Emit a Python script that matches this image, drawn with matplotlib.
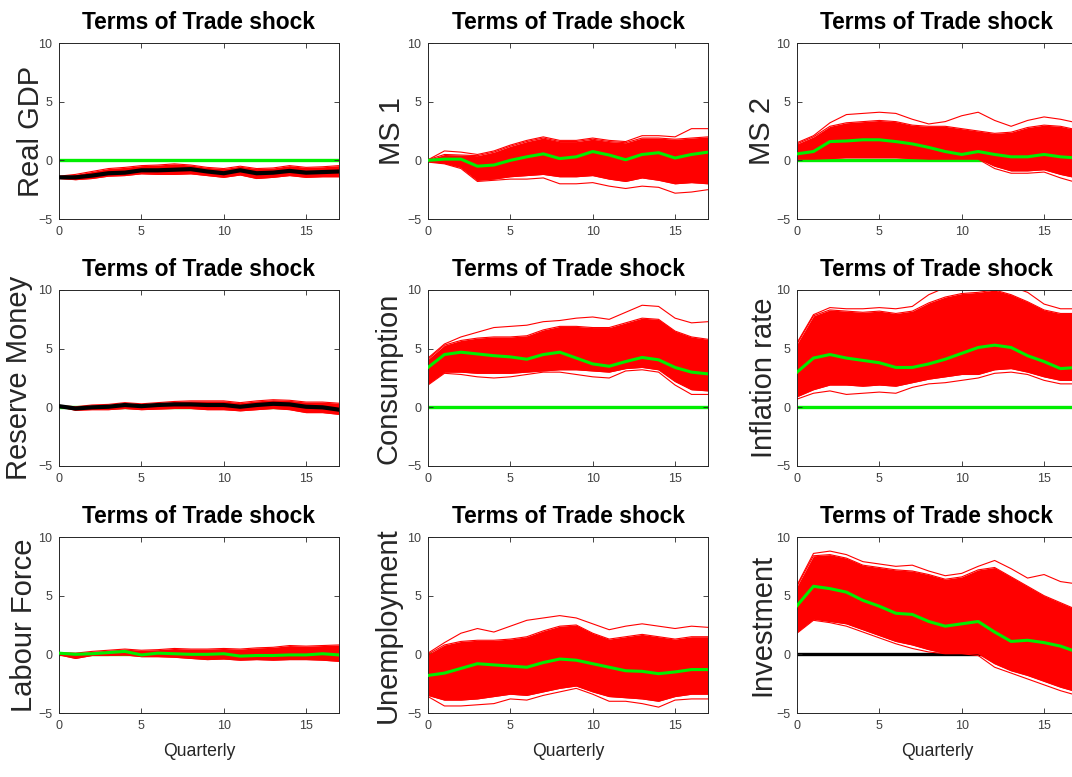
import matplotlib
matplotlib.use("Agg")
import matplotlib.pyplot as plt
from matplotlib import font_manager

# quarters after the shock
quarters = list(range(18))

# Real GDP
gdp_mid = [-1.45, -1.45, -1.3, -1.1, -1.05, -0.85, -0.85, -0.8, -0.75, -0.95, -1.1, -0.85, -1.1, -1.05, -0.9, -1.05, -1.0, -0.95]
gdp_hi = [-1.35, -1.2, -0.95, -0.7, -0.6, -0.45, -0.4, -0.3, -0.4, -0.6, -0.7, -0.5, -0.7, -0.65, -0.45, -0.6, -0.55, -0.45]
gdp_lo = [-1.55, -1.65, -1.55, -1.35, -1.3, -1.15, -1.2, -1.2, -1.15, -1.3, -1.45, -1.25, -1.55, -1.45, -1.3, -1.45, -1.4, -1.4]

# MS 1
ms1_mid = [0.0, 0.1, 0.1, -0.5, -0.4, 0.0, 0.3, 0.55, 0.15, 0.3, 0.75, 0.45, 0.05, 0.5, 0.65, 0.2, 0.5, 0.7]
ms1_hi = [0.05, 0.5, 0.45, 0.4, 0.7, 1.2, 1.6, 1.9, 1.6, 1.6, 1.8, 1.6, 1.5, 1.9, 1.9, 1.8, 1.9, 2.0]
ms1_lo = [-0.1, -0.25, -0.6, -1.7, -1.6, -1.4, -1.3, -1.2, -1.4, -1.4, -1.3, -1.6, -1.8, -1.5, -1.7, -2.0, -1.9, -2.0]
ms1_top = [0.05, 0.8, 0.7, 0.5, 0.8, 1.3, 1.7, 2.0, 1.7, 1.7, 1.9, 1.7, 1.6, 2.1, 2.1, 2.0, 2.7, 2.7]
ms1_bot = [-0.15, -0.3, -0.7, -1.8, -1.7, -1.6, -1.6, -1.5, -2.0, -2.0, -1.9, -2.2, -2.4, -2.2, -2.3, -2.8, -2.7, -2.5]

# MS 2
ms2_mid = [0.55, 0.75, 1.6, 1.65, 1.75, 1.75, 1.6, 1.4, 1.1, 0.75, 0.5, 0.75, 0.5, 0.3, 0.3, 0.5, 0.3, 0.2]
ms2_hi = [1.4, 2.0, 2.9, 3.2, 3.3, 3.4, 3.3, 3.0, 2.9, 2.9, 2.7, 2.5, 2.3, 2.4, 2.8, 3.0, 2.9, 2.6]
ms2_lo = [0.15, 0.15, 0.2, 0.25, 0.25, 0.25, 0.25, 0.2, 0.15, 0.15, 0.15, 0.15, -0.5, -0.9, -0.9, -0.8, -1.2, -1.5]
ms2_top = [1.5, 2.1, 3.2, 3.9, 4.0, 4.1, 4.0, 3.5, 3.1, 3.3, 3.8, 4.1, 3.4, 2.9, 3.4, 3.7, 3.5, 3.2]
ms2_bot = [0.1, 0.1, 0.15, 0.2, 0.2, 0.2, 0.2, 0.15, 0.1, 0.1, 0.1, 0.1, -0.7, -1.1, -1.1, -1.0, -1.5, -1.9]

# Reserve Money
res_mid = [0.1, -0.1, 0.0, 0.05, 0.2, 0.1, 0.2, 0.25, 0.25, 0.2, 0.2, 0.05, 0.2, 0.3, 0.25, 0.05, 0.0, -0.2]
res_hi = [0.15, 0.05, 0.2, 0.25, 0.4, 0.3, 0.4, 0.5, 0.55, 0.55, 0.55, 0.4, 0.55, 0.65, 0.6, 0.45, 0.45, 0.35]
res_lo = [0.05, -0.25, -0.2, -0.2, -0.1, -0.2, -0.15, -0.1, -0.1, -0.2, -0.2, -0.3, -0.2, -0.1, -0.2, -0.45, -0.45, -0.6]

# Consumption
con_mid = [3.4, 4.5, 4.7, 4.55, 4.4, 4.3, 4.1, 4.5, 4.7, 4.2, 3.7, 3.5, 3.9, 4.25, 4.05, 3.4, 3.0, 2.85]
con_hi = [4.1, 5.3, 5.7, 5.9, 6.0, 6.0, 6.1, 6.6, 6.9, 6.9, 6.8, 6.8, 7.2, 7.6, 7.5, 6.5, 6.0, 5.8]
con_lo = [2.0, 3.0, 3.0, 2.9, 2.9, 2.9, 3.0, 3.1, 3.2, 3.2, 3.1, 3.0, 3.3, 3.4, 3.2, 2.2, 1.5, 1.4]
con_top = [4.2, 5.4, 6.0, 6.4, 6.8, 6.9, 7.0, 7.3, 7.4, 7.6, 7.7, 7.5, 8.1, 8.7, 8.6, 7.6, 7.2, 7.3]
con_bot = [1.9, 2.9, 2.8, 2.6, 2.5, 2.6, 2.8, 3.0, 3.0, 2.8, 2.6, 2.5, 3.1, 3.2, 3.0, 1.9, 1.1, 1.1]

# Inflation rate
inf_mid = [3.0, 4.2, 4.5, 4.2, 4.0, 3.8, 3.4, 3.4, 3.7, 4.1, 4.6, 5.1, 5.3, 5.1, 4.4, 3.9, 3.3, 3.4]
inf_hi = [5.4, 7.8, 8.3, 8.2, 8.1, 8.2, 8.0, 8.2, 8.9, 9.4, 9.7, 9.8, 10.0, 9.6, 9.0, 8.3, 8.0, 8.0]
inf_lo = [0.9, 1.5, 1.9, 1.9, 1.8, 1.9, 1.8, 2.1, 2.4, 2.6, 2.8, 2.8, 3.2, 3.3, 3.0, 2.6, 2.3, 2.3]
inf_top = [5.5, 7.9, 8.5, 8.4, 8.4, 8.5, 8.4, 8.6, 9.6, 10.2, 10.5, 10.5, 10.6, 10.3, 9.8, 8.8, 8.4, 8.4]
inf_bot = [0.7, 1.2, 1.4, 1.1, 1.2, 1.3, 1.2, 1.7, 2.0, 2.1, 2.3, 2.5, 2.9, 3.0, 2.8, 2.3, 2.0, 2.0]

# Labour Force
lab_mid = [0.1, 0.0, 0.05, 0.15, 0.25, -0.05, 0.1, 0.05, 0.0, 0.0, 0.05, -0.15, -0.1, -0.1, -0.05, -0.05, 0.05, -0.05]
lab_hi = [0.15, 0.1, 0.25, 0.35, 0.45, 0.35, 0.4, 0.5, 0.45, 0.45, 0.5, 0.45, 0.55, 0.6, 0.75, 0.7, 0.75, 0.8]
lab_lo = [-0.05, -0.35, -0.1, -0.1, -0.05, -0.2, -0.2, -0.25, -0.35, -0.45, -0.4, -0.5, -0.45, -0.5, -0.45, -0.45, -0.5, -0.6]

# Unemployment
une_mid = [-1.8, -1.6, -1.2, -0.8, -0.9, -1.0, -1.1, -0.7, -0.4, -0.5, -0.8, -1.1, -1.4, -1.45, -1.65, -1.5, -1.3, -1.3]
une_hi = [0.0, 0.8, 1.1, 1.2, 1.2, 1.3, 1.5, 2.0, 2.4, 2.5, 1.8, 1.3, 1.5, 1.7, 1.5, 1.3, 1.5, 1.5]
une_lo = [-3.5, -3.9, -3.9, -3.8, -3.6, -3.4, -3.5, -3.2, -2.9, -2.7, -3.2, -3.6, -3.7, -3.8, -4.0, -3.6, -3.4, -3.4]
une_top = [0.1, 1.0, 1.8, 2.2, 1.9, 2.4, 2.9, 3.1, 3.3, 3.1, 2.6, 2.1, 2.4, 2.6, 2.4, 2.2, 2.4, 2.3]
une_bot = [-3.6, -4.4, -4.4, -4.3, -4.2, -3.8, -3.9, -3.5, -3.2, -2.9, -3.4, -4.0, -4.0, -4.2, -4.5, -3.9, -3.8, -3.8]

# Investment
inv_mid = [4.15, 5.8, 5.6, 5.3, 4.6, 4.1, 3.5, 3.4, 2.8, 2.4, 2.6, 2.8, 1.9, 1.1, 1.2, 1.0, 0.7, 0.2]
inv_hi = [5.8, 8.4, 8.5, 8.2, 7.6, 7.4, 7.2, 7.1, 6.8, 6.4, 6.6, 7.2, 7.4, 6.6, 5.8, 5.0, 4.4, 3.8]
inv_lo = [1.9, 3.0, 2.8, 2.6, 2.1, 1.6, 1.1, 0.8, 0.4, 0.08, 0.08, 0.05, -0.8, -1.4, -1.8, -2.3, -2.8, -3.2]
inv_top = [5.9, 8.6, 8.8, 8.5, 7.9, 7.7, 7.5, 7.6, 7.1, 6.7, 6.9, 7.5, 8.0, 7.3, 6.5, 6.8, 6.2, 6.0]
inv_bot = [1.8, 2.9, 2.7, 2.4, 1.9, 1.4, 0.9, 0.5, 0.2, 0.05, 0.05, -0.1, -1.1, -1.6, -2.1, -2.6, -3.1, -3.5]

labels = ["Real GDP", "MS 1", "MS 2",
          "Reserve Money", "Consumption", "Inflation rate",
          "Labour Force", "Unemployment", "Investment"]
mids = [gdp_mid, ms1_mid, ms2_mid, res_mid, con_mid, inf_mid, lab_mid, une_mid, inv_mid]
his = [gdp_hi, ms1_hi, ms2_hi, res_hi, con_hi, inf_hi, lab_hi, une_hi, inv_hi]
los = [gdp_lo, ms1_lo, ms2_lo, res_lo, con_lo, inf_lo, lab_lo, une_lo, inv_lo]
tops = [None, ms1_top, ms2_top, None, con_top, inf_top, None, une_top, inv_top]
bots = [None, ms1_bot, ms2_bot, None, con_bot, inf_bot, None, une_bot, inv_bot]
mid_colors = ["black", "#00ee00", "#00ee00", "black", "#00ee00", "#00ee00", "#00ee00", "#00ee00", "#00ee00"]
zero_colors = ["#00ee00", "#00ee00", "#00ee00", "#00ee00", "#00ee00", "#00ee00", "#00ee00", "#00ee00", "black"]
# where each ylabel baseline sits, pixels left of the axes
label_offsets = [20, 28, 27, 32, 32, 25, 27, 32, 27]

names = {f.name for f in font_manager.fontManager.ttflist}
if "Liberation Sans Narrow" in names:
    narrow, shrink = "Liberation Sans Narrow", 1.0
else:
    narrow, shrink = "Liberation Sans", 0.82

W, H = 1072, 777
fig = plt.figure(figsize=(W / 100, H / 100), dpi=100)
col_left = [59, 428, 797]
row_top = [43, 290, 537]
ax_w, ax_h = 280, 176

for i, label in enumerate(labels):
    r, c = divmod(i, 3)
    ax = fig.add_axes([col_left[c] / W, 1 - (row_top[r] + ax_h) / H, ax_w / W, ax_h / H])
    ax.plot([0, 17], [0, 0], color=zero_colors[i], lw=2.4, zorder=1)
    ax.fill_between(quarters, los[i], his[i], color="red", lw=0, zorder=2)
    ax.plot(quarters, his[i], color="red", lw=0.8, zorder=2)
    ax.plot(quarters, los[i], color="red", lw=0.8, zorder=2)
    if tops[i] is not None:
        ax.plot(quarters, tops[i], color="red", lw=0.8, zorder=2)
        ax.plot(quarters, bots[i], color="red", lw=0.8, zorder=2)
    ax.plot(quarters, mids[i], color=mid_colors[i],
            lw=3.0 if mid_colors[i] == "black" else 2.2, zorder=3)

    ax.set_xlim(0, 17)
    ax.set_ylim(-5, 10)
    ax.set_xticks([0, 5, 10, 15])
    ax.set_yticks([-5, 0, 5, 10])
    ax.tick_params(direction="in", length=3.5, width=0.6, top=True, right=True,
                   colors="#262626", labelcolor="#404040", pad=5)
    for t in ax.get_xticklabels() + ax.get_yticklabels():
        t.set_fontfamily(narrow)
        t.set_fontsize(11 * shrink)
    for s in ax.spines.values():
        s.set_color("#262626")
        s.set_linewidth(0.7)

    ax.set_title("Terms of Trade shock", fontfamily=narrow, fontweight="bold",
                 fontsize=20 * shrink, pad=10)
    ax.set_ylabel(label, fontfamily="Liberation Sans", fontsize=21, color="#262626")
    ax.yaxis.label.set_verticalalignment("baseline")
    ax.yaxis.set_label_coords(-label_offsets[i] / ax_w, 0.5)
    if r == 2:
        ax.set_xlabel("Quarterly", fontfamily=narrow, fontsize=15.5 * shrink,
                      color="#262626", labelpad=8)

fig.savefig("out.png", dpi=100)
